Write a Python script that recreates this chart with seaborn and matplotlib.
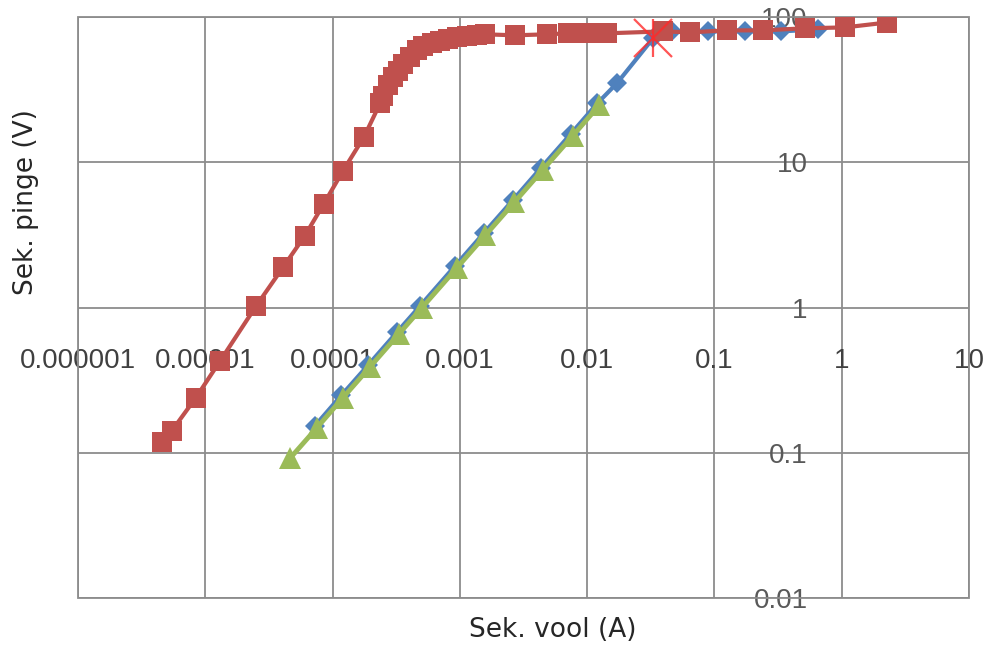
import matplotlib
matplotlib.use("Agg")
import matplotlib.pyplot as plt
from matplotlib.patches import Rectangle
import seaborn as sns

# secondary current (A) vs secondary voltage (V)
red_i = [4.57e-6, 5.47e-6, 8.45e-6, 1.30e-5, 2.50e-5, 4.08e-5, 6.07e-5, 8.56e-5,
         1.21e-4, 1.77e-4, 2.36e-4, 2.49e-4, 2.72e-4, 2.98e-4, 3.27e-4, 3.57e-4,
         4.05e-4, 4.60e-4, 5.13e-4, 6.04e-4, 6.98e-4, 8.07e-4, 9.49e-4, 1.14e-3,
         1.36e-3, 1.57e-3, 2.71e-3, 4.83e-3, 7.07e-3, 8.78e-3, 1.11e-2, 1.43e-2,
         3.94e-2, 6.42e-2, 0.125, 0.240, 0.514, 1.06, 2.26]
red_u = [0.118, 0.142, 0.240, 0.425, 1.02, 1.89, 3.13, 5.20,
         8.75, 15.0, 25.4, 28.8, 33.8, 38.4, 42.8, 47.8,
         52.7, 58.8, 62.9, 65.8, 67.9, 70.1, 72.4, 73.6,
         74.8, 76.0, 74.8, 76.0, 77.2, 77.2, 77.2, 77.2,
         79.6, 78.4, 80.9, 80.9, 83.6, 84.8, 91.6]

blue_i = [7.25e-5, 1.17e-4, 1.91e-4, 3.22e-4, 4.89e-4, 9.15e-4, 1.54e-3, 2.60e-3,
          4.36e-3, 7.45e-3, 1.20e-2, 1.71e-2, 3.29e-2, 4.64e-2, 8.89e-2, 0.174,
          0.333, 0.650]
blue_u = [0.153, 0.248, 0.403, 0.68, 1.03, 1.93, 3.25, 5.47,
          9.2, 15.7, 25.4, 34.9, 71.2, 79.6, 79.6, 79.6,
          79.6, 82.2]

green_i = [4.65e-5, 7.5e-5, 1.21e-4, 1.97e-4, 3.33e-4, 5.05e-4, 9.45e-4, 1.59e-3,
           2.68e-3, 4.5e-3, 7.7e-3, 1.24e-2]
green_u = [0.092, 0.148, 0.24, 0.39, 0.66, 1.0, 1.87, 3.15,
           5.3, 8.9, 15.2, 24.6]

knee_i = [3.29e-2]
knee_u = [71.2]

x_ticks = [1e-6, 1e-5, 1e-4, 1e-3, 1e-2, 1e-1, 1, 10]
x_labels = ["0.000001", "0.00001", "0.0001", "0.001", "0.01", "0.1", "1", "10"]
y_ticks = [0.01, 0.1, 1, 10, 100]
y_labels = ["0.01", "0.1", "1", "10", "100"]

sns.set_style("white")
plt.rcParams["font.family"] = ["DejaVu Sans"]

fig = plt.figure(figsize=(9.86, 6.46), dpi=100)
ax = fig.add_axes([78 / 986, 1 - 598 / 646, 891 / 986, 581 / 646])
ax.set_xscale("log")
ax.set_yscale("log")

sns.lineplot(x=blue_i, y=blue_u, ax=ax, sort=False, estimator=None, color="#4F81BD",
             linewidth=3, marker="D", markersize=10, markeredgewidth=0, zorder=3)
sns.lineplot(x=green_i, y=green_u, ax=ax, sort=False, estimator=None, color="#9BBB59",
             linewidth=3.5, marker="^", markersize=16, markeredgewidth=0, zorder=4)
sns.lineplot(x=red_i, y=red_u, ax=ax, sort=False, estimator=None, color="#C0504D",
             linewidth=3, marker="s", markersize=15, markeredgewidth=0, zorder=5)
for m, ms in (("x", 28), ("|", 27)):
    sns.lineplot(x=knee_i, y=knee_u, ax=ax, estimator=None, color="#FF2a2a", alpha=0.8,
                 linestyle="none", marker=m, markersize=ms, markeredgewidth=1.6,
                 markeredgecolor="#FF2a2a", zorder=6)

ax.set_xlim(1e-6, 10)
ax.set_ylim(0.01, 100)
ax.minorticks_off()
ax.set_xticks(x_ticks, x_labels)
ax.set_yticks(y_ticks, y_labels)
ax.grid(True, which="major", color="#8c8c8c", linewidth=1.3)
ax.set_axisbelow(True)

# axes cross at (1, 1), labels offset from there
ax.spines["bottom"].set_position(("data", 1))
ax.spines["left"].set_position(("data", 1))
for s in ax.spines.values():
    s.set_visible(False)
ax.tick_params(axis="x", length=0, pad=29, labelsize=20, labelcolor="#404040")
ax.tick_params(axis="y", length=0, pad=24.5, labelsize=20, labelcolor="#595959")
for lab in ax.get_xticklabels() + ax.get_yticklabels():
    lab.set_family(["Liberation Sans", "DejaVu Sans"])
ax.add_patch(Rectangle((0, 0), 1, 1, transform=ax.transAxes, fill=False,
                       edgecolor="#8c8c8c", linewidth=1.3, clip_on=False, zorder=1))
ax.set_xlabel("")
ax.set_ylabel("")

fig.text(553 / 986, 1 - 630 / 646, "Sek. vool (A)", ha="center", va="center", fontsize=19)
fig.text(26 / 986, 1 - 202 / 646, "Sek. pinge (V)", ha="center", va="center",
         rotation=90, fontsize=19)

fig.savefig("out.png", dpi=100)
